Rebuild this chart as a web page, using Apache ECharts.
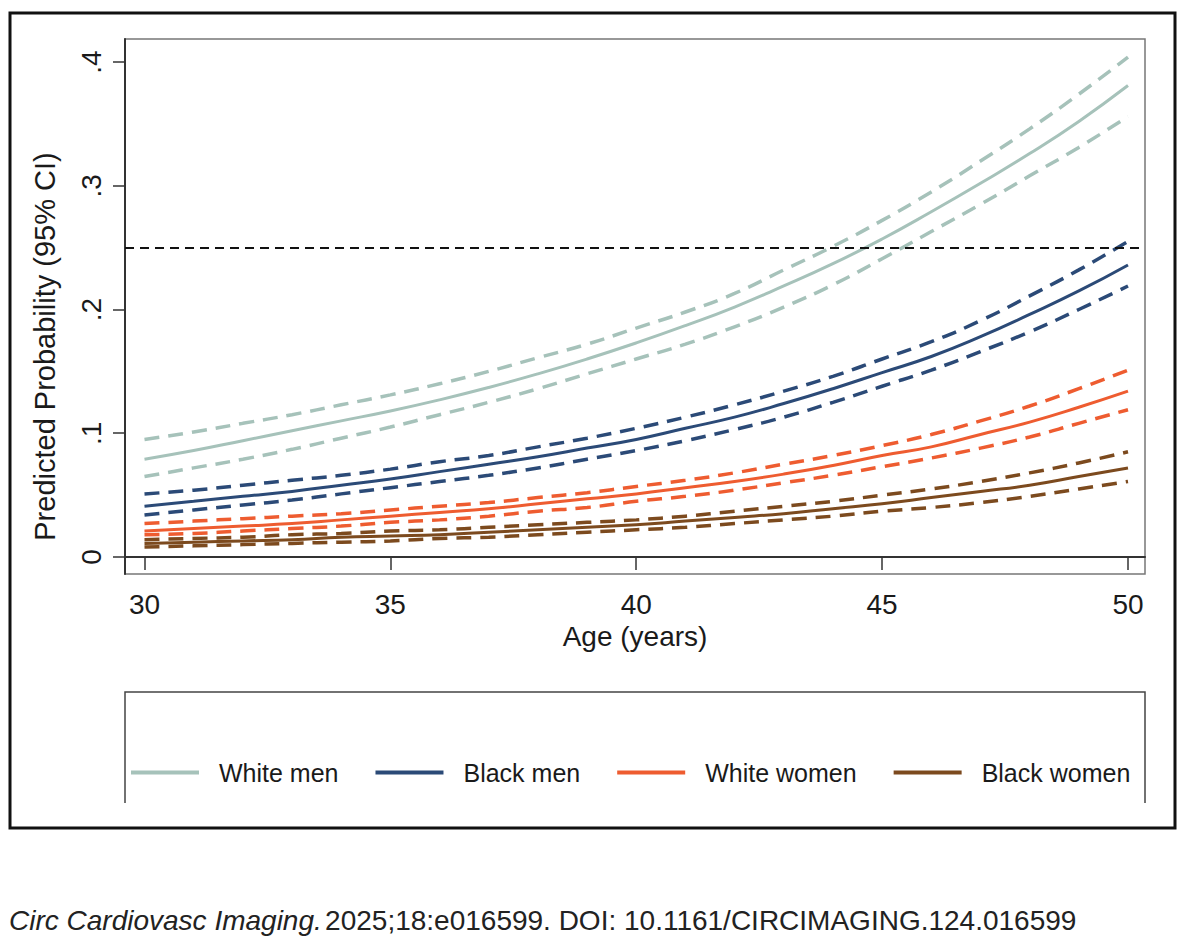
<!DOCTYPE html>
<html>
<head>
<meta charset="utf-8">
<script src="https://cdn.jsdelivr.net/npm/echarts@6/dist/echarts.min.js"></script>
<style>
html,body{margin:0;padding:0;background:#fff;}
#chart{width:1186px;height:948px;}
</style>
</head>
<body>
<div id="chart"></div>
<script>
const ages = [30,31,32,33,34,35,36,37,38,39,40,41,42,43,44,45,46,47,48,49,50];
const xTicks = [30,35,40,45,50];
const yTicks = [0,0.1,0.2,0.3,0.4];
const threshold = 0.246;
const groupNames = ['White men','Black men','White women','Black women'];

const whiteMen      = [.079,.086,.094,.102,.110,.118,.127,.137,.148,.160,.173,.187,.202,.219,.237,.257,.279,.302,.326,.352,.381];
const whiteMenHi    = [.095,.101,.108,.115,.123,.131,.140,.150,.161,.172,.185,.198,.213,.232,.251,.272,.295,.320,.346,.374,.404];
const whiteMenLo    = [.065,.072,.079,.087,.096,.105,.115,.125,.136,.148,.160,.172,.186,.202,.220,.241,.263,.285,.308,.331,.356];

const blackMen      = [.041,.045,.049,.053,.058,.063,.069,.075,.081,.088,.095,.104,.113,.124,.136,.149,.162,.178,.196,.215,.236];
const blackMenHi    = [.051,.054,.058,.062,.066,.071,.077,.082,.089,.096,.104,.113,.123,.134,.146,.160,.174,.191,.211,.232,.255];
const blackMenLo    = [.034,.038,.042,.046,.051,.056,.061,.066,.072,.079,.086,.094,.103,.113,.125,.138,.151,.166,.182,.200,.219];

const whiteWomen    = [.021,.023,.025,.027,.030,.033,.036,.039,.043,.047,.051,.056,.061,.067,.074,.082,.089,.099,.109,.121,.134];
const whiteWomenHi  = [.027,.029,.031,.033,.035,.038,.041,.044,.048,.052,.057,.062,.068,.075,.082,.090,.099,.110,.122,.136,.151];
const whiteWomenLo  = [.018,.019,.021,.023,.025,.028,.030,.033,.037,.040,.045,.049,.054,.060,.066,.073,.080,.088,.097,.108,.119];

const blackWomen    = [.011,.012,.013,.014,.016,.017,.018,.020,.022,.024,.026,.029,.032,.035,.039,.043,.048,.053,.058,.065,.072];
const blackWomenHi  = [.014,.015,.016,.018,.019,.021,.022,.024,.026,.028,.030,.033,.037,.041,.045,.050,.055,.061,.068,.076,.085];
const blackWomenLo  = [.008,.009,.010,.011,.012,.013,.015,.016,.018,.020,.022,.024,.027,.030,.033,.037,.040,.044,.049,.055,.061];

const colors = ['#a6c2ba','#2b4a77','#ee5c30','#7c4a1e'];
const groups = [
  [whiteMen, whiteMenHi, whiteMenLo],
  [blackMen, blackMenHi, blackMenLo],
  [whiteWomen, whiteWomenHi, whiteWomenLo],
  [blackWomen, blackWomenHi, blackWomenLo]
];

const FONT = '"Liberation Sans", Arial, sans-serif';
const pair = arr => ages.map((a,i)=>[a, arr[i]]);

const series = [];
groups.forEach((g, gi) => {
  const c = colors[gi];
  ['Upper','Lower'].forEach((suffix, k) => {
    series.push({
      name: groupNames[gi] + ' 95% CI ' + suffix,
      type: 'line', smooth: true, showSymbol: false, silent: true,
      data: pair(g[k+1]),
      lineStyle: {color: c, width: 3.5, type: [15, 9]},
      itemStyle: {color: c},
      z: 2
    });
  });
  series.push({
    name: groupNames[gi],
    type: 'line', smooth: true, showSymbol: false, silent: true,
    data: pair(g[0]),
    lineStyle: {color: c, width: 3},
    itemStyle: {color: c},
    z: 3
  });
});
series[0].markLine = {
  silent: true, symbol: 'none', label: {show: false},
  lineStyle: {color: '#111', width: 2, type: [9, 6]},
  data: [{yAxis: threshold}]
};

const chart = echarts.init(document.getElementById('chart'), null, {renderer: 'svg'});
chart.setOption({
  animation: false,
  backgroundColor: '#fff',
  grid: {left: 125, right: 41, top: 39, bottom: 374, show: true, borderColor: '#777', borderWidth: 1.5, containLabel: false},
  xAxis: {
    type: 'value', min: 29.6035, max: 50.3457,
    name: 'Age (years)', nameLocation: 'middle', nameGap: 45,
    nameTextStyle: {fontFamily: FONT, fontSize: 28, color: '#1a1a1a'},
    axisLine: {show: true, lineStyle: {color: '#333', width: 2}},
    axisTick: {show: true, inside: false, length: 13, lineStyle: {color: '#333', width: 1.5}, customValues: xTicks},
    axisLabel: {show: true, margin: 16, fontFamily: FONT, fontSize: 28, color: '#1a1a1a', customValues: xTicks, formatter: v => String(v)},
    splitLine: {show: false}
  },
  yAxis: {
    type: 'value', min: -0.01374, max: 0.41859,
    name: 'Predicted Probability (95% CI)', nameLocation: 'middle', nameGap: 66,
    nameTextStyle: {fontFamily: FONT, fontSize: 29, color: '#1a1a1a', padding: [0, 80, 0, 0]},
    axisLine: {show: true, lineStyle: {color: '#333', width: 2}},
    axisTick: {show: true, inside: false, length: 12, lineStyle: {color: '#333', width: 1.5}, customValues: yTicks},
    axisLabel: {show: true, rotate: 90, margin: 20, fontFamily: FONT, fontSize: 28, color: '#1a1a1a', customValues: yTicks,
      formatter: v => v === 0 ? '0' : ('.' + Math.round(v * 10))},
    splitLine: {show: false}
  },
  legend: {
    data: groupNames,
    left: 126, top: 755,
    icon: 'rect', itemWidth: 68, itemHeight: 4, itemGap: 37,
    textStyle: {fontFamily: FONT, fontSize: 25, color: '#1a1a1a', padding: [0, 0, 0, 15]},
    selectedMode: false
  },
  graphic: [
    {type: 'rect', shape: {x: 10, y: 13, width: 1165, height: 815}, style: {fill: 'none', stroke: '#111', lineWidth: 3}, silent: true, z: -1},
    {type: 'polyline', shape: {points: [[125, 803], [125, 692], [1145, 692], [1145, 803]]}, style: {fill: 'none', stroke: '#444', lineWidth: 1.5}, silent: true},
    {type: 'text', left: 9, top: 906, silent: true,
      style: {
        text: '{i|Circ Cardiovasc Imaging.} {n|2025;18:e016599. DOI: 10.1161/CIRCIMAGING.124.016599}',
        rich: {
          i: {fontFamily: FONT, fontStyle: 'italic', fontSize: 28, fill: '#222'},
          n: {fontFamily: FONT, fontSize: 28, fill: '#222'}
        }
      }}
  ],
  series: series
});
</script>
</body>
</html>
